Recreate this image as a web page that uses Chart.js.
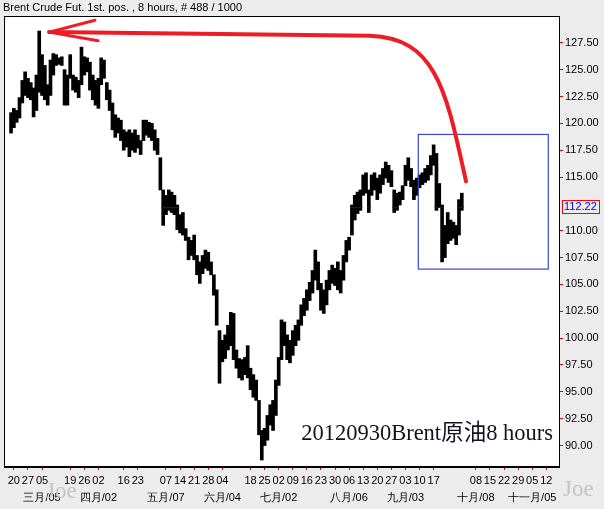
<!DOCTYPE html>
<html><head><meta charset="utf-8">
<script src="https://cdn.jsdelivr.net/npm/chart.js@4.4.0/dist/chart.umd.min.js"></script>
<style>html,body{margin:0;padding:0;background:#ECECEC;}canvas{display:block;}</style>
</head><body>
<canvas id="c" width="604" height="509"></canvas>
<script>
const titleText = 'Brent Crude Fut. 1st. pos. , 8 hours, # 488 / 1000';
const firstDay = '2012-02-15', lastDay = '2012-11-16';
const holidays = ['04-06'];
const dataStartDay = '02-17';
const highs = [
121.0,121.4,121.2,122.4,124.0,124.8,124.2,123.8,123.3,124.5,
128.6,126.4,125.4,123.6,125.9,126.5,126.4,126.1,126.2,125.0,
124.5,126.4,124.5,124.3,124.0,127.1,126.2,126.1,125.7,124.5,
124.0,124.2,126.1,125.9,123.8,123.1,121.9,120.8,120.5,120.3,
119.4,119.2,119.4,119.1,119.4,118.9,118.4,120.3,120.3,120.1,
120.0,119.4,118.6,116.8,113.8,113.3,113.8,113.6,113.3,112.4,
111.5,111.7,110.2,109.4,109.1,109.6,107.7,107.1,107.7,108.2,
108.0,107.1,105.9,104.5,100.7,99.8,100.3,101.2,102.4,102.3,
98.9,98.1,98.0,98.2,99.3,97.2,96.6,96.1,94.2,91.4,
91.6,92.8,93.8,94.2,96.1,98.2,101.7,101.5,100.3,99.8,
100.7,101.2,101.7,103.1,103.7,104.5,105.2,106.3,108.2,107.1,
105.1,104.5,105.4,106.3,106.8,106.5,107.1,106.3,107.7,109.1,
109.4,112.4,113.3,113.6,113.8,115.2,115.4,113.8,115.2,115.4,
114.9,115.2,115.8,116.4,116.1,115.6,113.8,113.5,113.6,114.2,
116.1,116.8,115.8,114.7,114.9,115.2,115.4,115.8,116.1,117.0,
118.0,117.2,114.4,112.4,110.5,111.7,111.0,110.8,110.5,112.9,113.5];
const lows = [
119.1,119.6,120.1,120.5,121.9,122.6,122.4,122.2,120.6,121.2,
122.9,122.6,122.2,121.7,122.6,124.5,125.4,125.5,125.4,121.7,
121.7,124.2,123.1,122.9,122.4,123.6,124.5,124.8,123.1,122.2,
121.7,121.4,123.6,124.2,122.2,121.2,119.4,118.7,119.1,118.4,
117.5,117.8,116.9,117.5,117.3,117.7,117.1,118.4,118.9,118.7,
118.4,117.5,117.1,113.8,110.5,111.5,111.9,111.7,111.5,110.1,
109.8,109.6,109.1,107.3,107.7,107.3,105.9,105.1,106.0,106.5,
106.3,105.9,104.0,101.2,95.8,97.8,98.1,98.9,99.3,98.0,
97.2,96.3,96.1,96.6,96.3,95.2,94.5,94.2,91.0,88.65,
90.0,90.5,91.9,91.4,92.8,95.6,98.0,99.3,98.0,97.7,
98.4,99.3,99.8,101.2,102.1,102.6,103.5,104.2,105.4,104.5,
102.6,102.3,103.1,104.5,105.1,104.9,104.5,104.2,105.4,107.1,
108.2,109.6,111.0,111.6,111.9,113.3,113.5,111.7,113.3,113.8,
112.9,113.5,114.3,114.9,114.5,114.1,111.7,111.9,112.4,112.9,
114.2,114.7,114.1,112.9,113.3,114.0,114.3,114.5,114.7,115.2,
116.1,111.9,112.2,107.1,107.5,108.8,109.1,109.3,108.7,109.6,111.9];
const lastClose = 112.22;
const weekTicks = ['02-20','02-27','03-05','03-19','03-26','04-02','04-16','04-23','05-07','05-14','05-21','05-28',
  '06-04','06-18','06-25','07-02','07-09','07-16','07-23','07-30','08-06','08-13','08-20','08-27','09-03','09-10','09-17',
  '10-08','10-15','10-22','10-29','11-05','11-12'];
const monthLabels = {'03-05':'三月/05','04-02':'四月/02','05-07':'五月/07','06-04':'六月/04','07-02':'七月/02',
  '08-06':'八月/06','09-03':'九月/03','10-08':'十月/08','11-05':'十一月/05'};
const yTicks = [90,92.5,95,97.5,100,102.5,105,107.5,110,112.5,115,117.5,120,122.5,125,127.5];
const yMin = 88, yMax = 130;
const noteText = '20120930Brent原油8 hours';
const watermark = 'Joe';
// annotations in data space: [category index, price]
const arrowTip = [15.5, 128.5], arrowBarbs = [[31.8, 129.6], [32.9, 127.7]];
const arrowPath = [[129.4, 128.17], [153.5, 127.98], [156.7, 122.6], [163.5, 114.6]];
const boxRange = {x0: 146.56, x1: 192.7, y0: 106.43, y1: 118.97};

const days = [];
for (let d = new Date(firstDay + 'T00:00:00Z'); d <= new Date(lastDay + 'T00:00:00Z'); d.setUTCDate(d.getUTCDate() + 1)) {
  const wd = d.getUTCDay(); if (wd === 0 || wd === 6) continue;
  const s = String(d.getUTCMonth() + 1).padStart(2, '0') + '-' + String(d.getUTCDate()).padStart(2, '0');
  if (holidays.includes(s)) continue;
  days.push(s);
}
const start = days.indexOf(dataStartDay);
const ranges = days.map((d, i) => { const k = i - start; return (k >= 0 && k < highs.length) ? [lows[k], highs[k]] : null; });

const FONT = "'Liberation Sans', Arial, sans-serif";

const deco = {
  id: 'deco',
  beforeDraw(chart) {
    const {ctx, chartArea: a} = chart;
    ctx.save();
    ctx.fillStyle = '#ECECEC'; ctx.fillRect(0, 0, chart.width, chart.height);
    ctx.fillStyle = '#FFFFFF'; ctx.fillRect(a.left, a.top, a.right - a.left, a.bottom - a.top);
    ctx.restore();
  },
  afterDatasetsDraw(chart) {
    const {ctx} = chart; const xs = chart.scales.x, ys = chart.scales.y;
    const w = xs.width / days.length;
    const y = Math.round(ys.getPixelForValue(lastClose)) + 0.5;
    ctx.save(); ctx.strokeStyle = '#0000FF'; ctx.lineWidth = 1;
    ranges.forEach((r, i) => {
      if (!r || r[0] > lastClose || r[1] < lastClose) return;
      const x = xs.getPixelForValue(i);
      ctx.beginPath(); ctx.moveTo(x - w / 2 - 0.5, y); ctx.lineTo(x + w / 2 + 0.5, y); ctx.stroke();
    });
    ctx.restore();
  },
  afterDraw(chart) {
    const {ctx, chartArea: a} = chart; const xs = chart.scales.x, ys = chart.scales.y;
    const P = p => [xs.getPixelForValue(p[0]), ys.getPixelForValue(p[1])];
    ctx.save();
    // border
    ctx.strokeStyle = '#000'; ctx.lineWidth = 1;
    ctx.strokeRect(a.left + 0.5, a.top + 0.5, a.right - a.left, a.bottom - a.top - 1);
    ctx.lineWidth = 2; ctx.beginPath(); ctx.moveTo(a.left, a.bottom); ctx.lineTo(a.right + 1, a.bottom); ctx.stroke();
    // title
    ctx.fillStyle = '#000'; ctx.font = '11px ' + FONT; ctx.textBaseline = 'middle'; ctx.textAlign = 'left';
    ctx.fillText(titleText, 3, 8);
    // last price box
    const ly = ys.getPixelForValue(lastClose);
    ctx.strokeStyle = '#FF0000'; ctx.lineWidth = 1;
    ctx.strokeRect(a.right + 3.5, Math.round(ly) - 6.5, 37, 13);
    ctx.fillStyle = '#0000FF'; ctx.font = '11px ' + FONT;
    ctx.fillText(lastClose.toFixed(2), a.right + 5, ly + 0.5);
    // blue box
    const b0 = P([boxRange.x0, boxRange.y1]), b1 = P([boxRange.x1, boxRange.y0]);
    ctx.strokeStyle = '#3A48D0'; ctx.lineWidth = 1.2;
    ctx.strokeRect(b0[0], b0[1], b1[0] - b0[0], b1[1] - b0[1]);
    // red arrow
    ctx.strokeStyle = '#EE1C24'; ctx.lineWidth = 4; ctx.lineCap = 'round'; ctx.lineJoin = 'round';
    const t = P(arrowTip), q = arrowPath.map(P);
    ctx.beginPath(); ctx.moveTo(t[0], t[1]); ctx.lineTo(q[0][0], q[0][1]);
    ctx.bezierCurveTo(q[1][0], q[1][1], q[2][0], q[2][1], q[3][0], q[3][1]); ctx.stroke();
    ctx.lineWidth = 3;
    arrowBarbs.forEach(bp => { const p = P(bp); ctx.beginPath(); ctx.moveTo(t[0], t[1]); ctx.lineTo(p[0], p[1]); ctx.stroke(); });
    // note text
    ctx.fillStyle = '#111122'; ctx.font = "22.5px 'Liberation Serif', 'Noto Sans CJK TC', serif";
    ctx.textAlign = 'right'; ctx.textBaseline = 'alphabetic';
    ctx.fillText(noteText, a.right - 6, a.bottom - 27);
    // watermarks
    ctx.fillStyle = '#C4C4C4'; ctx.font = "23px 'Liberation Serif', serif"; ctx.textAlign = 'left';
    ctx.fillText(watermark, a.left + 42, chart.height - 11);
    ctx.fillText(watermark, a.right + 4, chart.height - 13);
    ctx.restore();
  }
};

new Chart(document.getElementById('c'), {
  type: 'bar',
  data: { labels: days, datasets: [{ data: ranges, backgroundColor: '#000', borderWidth: 0, barThickness: 3 }] },
  options: {
    responsive: false, animation: false, events: [], devicePixelRatio: 1,
    layout: { padding: { left: 4, top: 16, right: 0, bottom: 0 } },
    plugins: { legend: { display: false }, tooltip: { enabled: false }, title: { display: false } },
    scales: {
      x: {
        type: 'category', offset: true,
        grid: { drawOnChartArea: false, offset: false, tickLength: 3, tickColor: '#E00000', tickWidth: 1 },
        border: { display: false },
        ticks: {
          autoSkip: false, maxRotation: 0, minRotation: 0, padding: 2, color: '#000',
          font: { family: FONT, size: 11, lineHeight: 1.55 },
          callback(v) { const d = days[v]; return monthLabels[d] ? [d.slice(3), monthLabels[d]] : d.slice(3); }
        },
        afterBuildTicks(s) { s.ticks = s.ticks.filter(t => weekTicks.includes(days[t.value])); },
        afterFit(s) { s.height = 42; }
      },
      y: {
        position: 'right', min: yMin, max: yMax,
        grid: { drawOnChartArea: false, tickLength: 4, tickColor: '#E00000', tickWidth: 1 },
        border: { display: false },
        ticks: { padding: 2, color: '#000', font: { family: FONT, size: 11 }, callback: v => Number(v).toFixed(2) },
        afterBuildTicks(s) { s.ticks = yTicks.filter(v => Math.abs(v - lastClose) > 0.6).map(v => ({ value: v })); },
        afterFit(s) { s.width = 45; }
      }
    }
  },
  plugins: [deco]
});
</script>
</body></html>
